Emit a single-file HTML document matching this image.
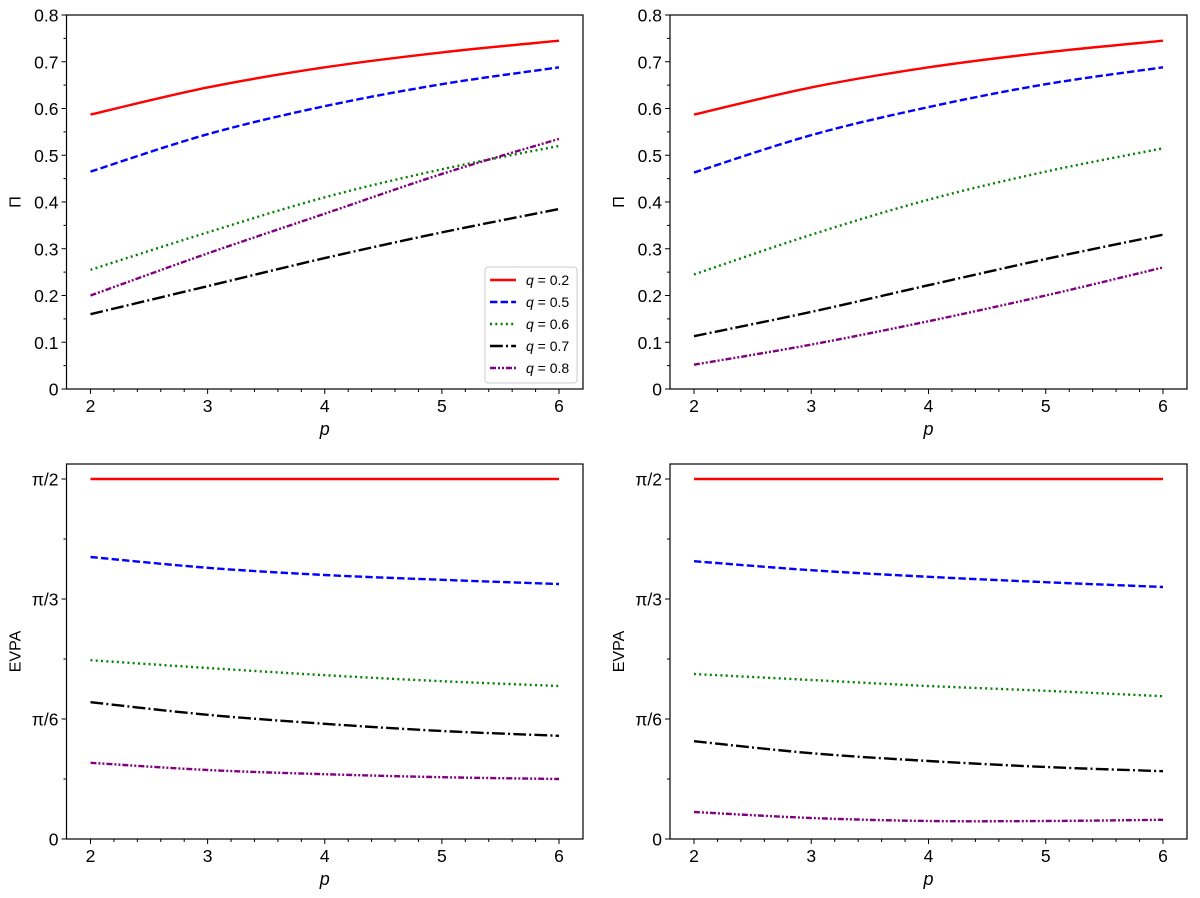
<!DOCTYPE html>
<html><head><meta charset="utf-8"><style>
body{margin:0;background:#fff}
svg{display:block;font-family:"Liberation Sans","DejaVu Sans",sans-serif}
</style></head><body>
<svg id="fig" width="1200" height="898"></svg>
<script>
const pValues=[2,3,4,5,6];
const qLabels=["q = 0.2","q = 0.5","q = 0.6","q = 0.7","q = 0.8"];
const piTL=[[0.587,0.645,0.688,0.720,0.745],[0.465,0.545,0.605,0.652,0.688],[0.255,0.335,0.410,0.470,0.520],[0.160,0.220,0.280,0.335,0.385],[0.200,0.290,0.375,0.460,0.535]];
const piTR=[[0.587,0.645,0.688,0.720,0.745],[0.463,0.543,0.603,0.652,0.688],[0.245,0.330,0.405,0.465,0.515],[0.113,0.165,0.222,0.278,0.330],[0.052,0.095,0.145,0.200,0.260]];
// EVPA in units of pi/12
const evpaBL=[[6,6,6,6,6],[4.70,4.52,4.40,4.32,4.25],[2.98,2.85,2.73,2.63,2.55],[2.28,2.07,1.92,1.80,1.72],[1.27,1.15,1.08,1.03,1.00]];
const evpaBR=[[6,6,6,6,6],[4.63,4.48,4.37,4.28,4.20],[2.75,2.65,2.55,2.47,2.38],[1.63,1.43,1.30,1.20,1.13],[0.45,0.35,0.30,0.30,0.32]];
const xTicks=[2,3,4,5,6];
const piTicks=[0,0.1,0.2,0.3,0.4,0.5,0.6,0.7,0.8];
const evpaTickVals=[0,2,4,6];
const evpaTickLabels=["0","π/6","π/3","π/2"];

const colors=["#ff0000","#0000ff","#008000","#000000","#800080"];
const dashes=["none","7.4,3.2","2,3.3","12.8,3.2,2,3.2","6,2,2,2,2,2"];
const NS="http://www.w3.org/2000/svg";
const svg=document.getElementById('fig');
function el(t,a,p){const e=document.createElementNS(NS,t);for(const k in a)e.setAttribute(k,a[k]);(p||svg).appendChild(e);return e;}

function panel(name,L,R,T,B,xr,yr,series,ytv,ytl,ymin,ylabel,legend){
  const g=el('g',{});
  
  
  const xs=v=>L+24+(v-xr[0])/(xr[1]-xr[0])*(R-L-48);
  const ys=v=>B-(v-yr[0])/(yr[1]-yr[0])*(B-T);
  series.forEach((s,i)=>{
    const pts=pValues.map((p,j)=>[xs(p),ys(s[j])]);
    let d="M"+pts[0][0]+","+pts[0][1];
    for(let j=0;j<pts.length-1;j++){
      const p0=pts[Math.max(j-1,0)],p1=pts[j],p2=pts[j+1],p3=pts[Math.min(j+2,pts.length-1)];
      d+=" C"+(p1[0]+(p2[0]-p0[0])/6)+","+(p1[1]+(p2[1]-p0[1])/6)+" "+(p2[0]-(p3[0]-p1[0])/6)+","+(p2[1]-(p3[1]-p1[1])/6)+" "+p2[0]+","+p2[1];
    }
    const ln=el('path',{d:d,fill:'none',stroke:colors[i],'stroke-width':2.4,'stroke-dasharray':dashes[i]},g);
    
    
  });
  el('rect',{x:L,y:T,width:R-L,height:B-T,fill:'none',stroke:'#000','stroke-width':1.2},g);
  for(let v=xr[0];v<=xr[1]+1e-9;v+=0.2){
    const x=xs(v);const major=Math.abs(v-Math.round(v))<1e-6;
    el('line',{x1:x,x2:x,y1:B,y2:B+(major?5:3),stroke:'#000','stroke-width':1},g);
  }
  xTicks.forEach(v=>{const t=el('text',{x:xs(v),y:B+23,'text-anchor':'middle','font-size':17.5},g);t.textContent=v;
    });
  ytv.forEach((v,i)=>{const y=ys(v);el('line',{x1:L-5,x2:L,y1:y,y2:y,stroke:'#000'},g);
    const t=el('text',{x:L-8,y:y+6.5,'text-anchor':'end','font-size':17.5},g);t.textContent=ytl[i];
    });
  for(let k=0;k<ymin.length;k++){const y=ys(ymin[k]);el('line',{x1:L-3,x2:L,y1:y,y2:y,stroke:'#000'},g);}
  const xl=el('text',{x:(L+R)/2,y:B+46,'text-anchor':'middle','font-size':18,'font-style':'italic'},g);xl.textContent='p';
  
  const yl=el('text',{transform:`translate(${L-46},${(T+B)/2}) rotate(-90)`,'text-anchor':'middle','font-size':16},g);yl.textContent=ylabel;
  
  if(legend){
    const lg=el('g',{},g);
    
    el('rect',{x:485,y:267,width:92,height:116,rx:3,fill:'#fff',stroke:'#ccc'},lg);
    qLabels.forEach((q,i)=>{const y=280+i*22;
      el('line',{x1:490,x2:516,y1:y,y2:y,stroke:colors[i],'stroke-width':2.4,'stroke-dasharray':dashes[i]},lg);
      const t=el('text',{x:526,y:y+5,'font-size':14},lg);
      t.innerHTML='<tspan font-style="italic">q</tspan> = '+q.split('= ')[1];
      });
  }
}
const pm=[];for(let v=0.05;v<0.8;v+=0.1)pm.push(v);
const em=[1,3,5];
const ptl=piTicks.map(v=>v===0?"0":v.toFixed(1));
panel('panel-pi-left',66.5,583,15,389,[2,6],[0,0.8],piTL,piTicks,ptl,pm,'Π',true);
panel('panel-pi-right',670,1187,15,389,[2,6],[0,0.8],piTR,piTicks,ptl,pm,'Π',false);
panel('panel-evpa-left',66.5,583,464,839,[2,6],[0,6.25],evpaBL,evpaTickVals,evpaTickLabels,em,'EVPA',false);
panel('panel-evpa-right',670,1187,464,839,[2,6],[0,6.25],evpaBR,evpaTickVals,evpaTickLabels,em,'EVPA',false);
</script>
</body></html>
